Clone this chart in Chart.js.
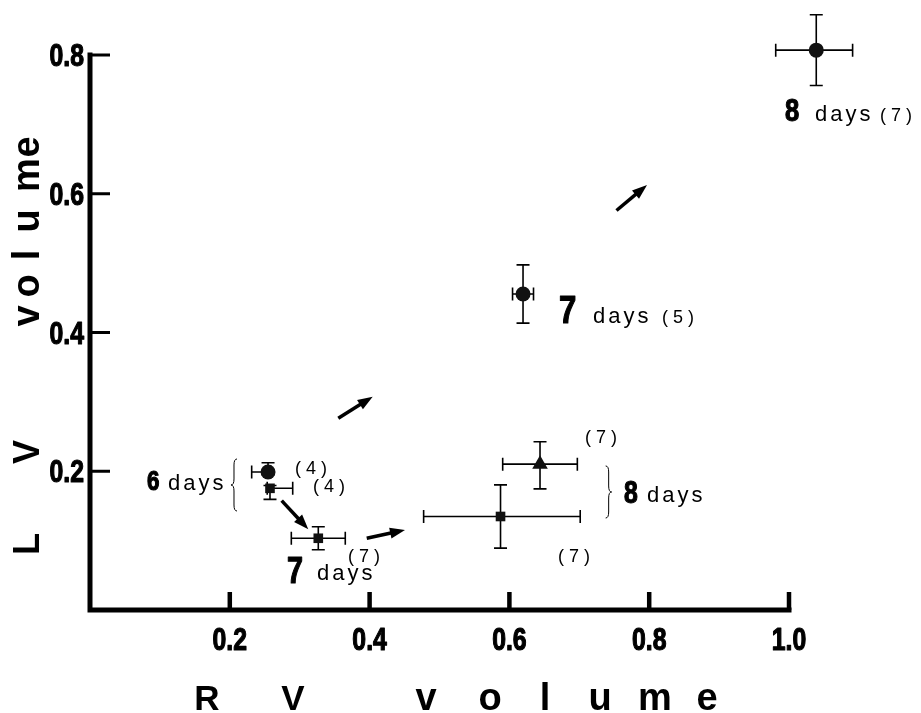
<!DOCTYPE html>
<html>
<head>
<meta charset="utf-8">
<script src="https://cdn.jsdelivr.net/npm/chart.js@4.4.0/dist/chart.umd.min.js"></script>
<style>
  html, body { margin: 0; padding: 0; background: #fff; }
  canvas { display: block; }
</style>
</head>
<body>
<canvas id="chart" width="921" height="713"></canvas>
<script>
// RV volume (x) against LV volume (y), mean with error bars
const rvVolume   = [1.039, 0.6195, 0.2547, 0.2575, 0.3266, 0.5873, 0.6438];
const lvVolume   = [0.807, 0.4555, 0.1989, 0.1754, 0.1034, 0.1348, 0.2102];
const rvErrMinus = [0.058, 0.015, 0.0234, 0.004, 0.0386, 0.110, 0.0534];
const rvErrPlus  = [0.052, 0.015, 0.004, 0.0325, 0.0386, 0.114, 0.0534];
const lvErrMinus = [0.051, 0.042, 0.004, 0.016, 0.0166, 0.0456, 0.0356];
const lvErrPlus  = [0.051, 0.042, 0.0134, 0.004, 0.0166, 0.0456, 0.0324];
const series     = ['circle', 'circle', 'circle', 'square', 'square', 'square', 'triangle'];

const xTicks = [0.2, 0.4, 0.6, 0.8, 1.0];
const xTickLabels = ['0.2', '0.4', '0.6', '0.8', '1.0'];
const yTicks = [0.2, 0.4, 0.6, 0.8];
const yTickLabels = ['0.2', '0.4', '0.6', '0.8'];

// arrows between stages, in data units
const arrowFrom = [[0.2742, 0.1576], [0.3959, 0.1034], [0.3552, 0.2763], [0.7532, 0.5759]];
const arrowTo   = [[0.3123, 0.1163], [0.4506, 0.1153], [0.4044, 0.3075], [0.7969, 0.6126]];

// annotations: text, x, y (data units, left / baseline), kind
const notes = [
  ['8', 0.9943, 0.7049, 'big32'], ['days', 1.0372, 0.7049, 'days'], ['(7)', 1.1302, 0.7049, 'n'],
  ['7', 0.6710, 0.4137, 'big39'], ['days', 0.7196, 0.4137, 'days'], ['(5)', 0.8183, 0.4137, 'n'],
  ['6', 0.0815, 0.1730, 'big28'], ['days', 0.1116, 0.1730, 'days'],
  ['(4)', 0.2933, 0.1960, 'n'], ['(4)', 0.3190, 0.1701, 'n'],
  ['(7)', 0.3691, 0.0692, 'n'], ['7', 0.2818, 0.0389, 'big36'], ['days', 0.3247, 0.0432, 'days'],
  ['(7)', 0.7082, 0.2407, 'n'], ['8', 0.7639, 0.1542, 'big31'], ['days', 0.7969, 0.1557, 'days'],
  ['(7)', 0.6695, 0.0692, 'n']
];
// curly braces: x, y top, y bottom, side of the tip
const braces = [[0.206, 0.2177, 0.1427, -1], [0.742, 0.2076, 0.1326, 1]];

const markerStyle = {
  circle: { pointStyle: 'circle', radius: 7.5 },
  square: { pointStyle: 'rect', radius: 6.8 },
  triangle: { pointStyle: 'triangle', radius: 9 }
};

const idx = series.map((s, i) => i);
const datasets = Object.keys(markerStyle).map(name => {
  const ids = idx.filter(i => series[i] === name);
  return {
    label: name,
    data: ids.map(i => ({ x: rvVolume[i], y: lvVolume[i] })),
    pointStyle: markerStyle[name].pointStyle,
    pointRadius: markerStyle[name].radius,
    pointBackgroundColor: '#111',
    pointBorderWidth: 0,
    showLine: false,
    clip: false
  };
});

const FONT = '"Liberation Sans", Arial, sans-serif';

// heavy, narrow digits like the figure's numerals
function condensed(ctx, text, x, y, size, align) {
  ctx.save();
  ctx.font = 'bold ' + size + 'px ' + FONT;
  ctx.translate(x, y);
  ctx.scale(0.8, 1);
  ctx.textAlign = align;
  ctx.textBaseline = 'alphabetic';
  ctx.lineWidth = 1.2;
  ctx.lineJoin = 'round';
  ctx.strokeText(text, 0, 0);
  ctx.fillText(text, 0, 0);
  ctx.restore();
}

function drawArrow(ctx, x1, y1, x2, y2) {
  const a = Math.atan2(y2 - y1, x2 - x1);
  const head = 15, half = 5.5;
  ctx.save();
  ctx.lineWidth = 3.5;
  ctx.lineCap = 'butt';
  ctx.beginPath();
  ctx.moveTo(x1, y1);
  ctx.lineTo(x2 - Math.cos(a) * head * 0.8, y2 - Math.sin(a) * head * 0.8);
  ctx.stroke();
  ctx.beginPath();
  ctx.moveTo(x2, y2);
  ctx.lineTo(x2 - Math.cos(a) * head - Math.sin(a) * half, y2 - Math.sin(a) * head + Math.cos(a) * half);
  ctx.lineTo(x2 - Math.cos(a) * head + Math.sin(a) * half, y2 - Math.sin(a) * head - Math.cos(a) * half);
  ctx.closePath();
  ctx.fill();
  ctx.restore();
}

function drawBrace(ctx, x, top, bottom, side) {
  const mid = (top + bottom) / 2, w = 3, r = 6;
  ctx.save();
  ctx.lineWidth = 1;
  ctx.beginPath();
  ctx.moveTo(x - side * w, top);
  ctx.quadraticCurveTo(x, top, x, top + r);
  ctx.lineTo(x, mid - r);
  ctx.quadraticCurveTo(x, mid, x + side * w, mid);
  ctx.quadraticCurveTo(x, mid, x, mid + r);
  ctx.lineTo(x, bottom - r);
  ctx.quadraticCurveTo(x, bottom, x - side * w, bottom);
  ctx.stroke();
  ctx.restore();
}

const figurePlugin = {
  id: 'figure',
  beforeDatasetsDraw(chart) {
    const ctx = chart.ctx;
    const xs = chart.scales.x, ys = chart.scales.y;
    const x0 = xs.getPixelForValue(0), y0 = ys.getPixelForValue(0);
    const xEnd = xs.getPixelForValue(xTicks[xTicks.length - 1]);
    const yEnd = ys.getPixelForValue(yTicks[yTicks.length - 1]);
    ctx.save();
    ctx.fillStyle = '#000';
    ctx.strokeStyle = '#000';

    // axis lines
    ctx.lineWidth = 5;
    ctx.lineCap = 'square';
    ctx.beginPath();
    ctx.moveTo(x0, yEnd);
    ctx.lineTo(x0, y0);
    ctx.lineTo(xEnd, y0);
    ctx.stroke();
    ctx.lineCap = 'butt';

    // x ticks (pointing up)
    ctx.lineWidth = 4.5;
    xTicks.forEach((v, k) => {
      const px = xs.getPixelForValue(v);
      ctx.beginPath();
      ctx.moveTo(px, y0);
      ctx.lineTo(px, y0 - 18);
      ctx.stroke();
      condensed(ctx, xTickLabels[k], px, y0 + 40, 31, 'center');
    });
    // y ticks (pointing right)
    ctx.lineWidth = 3;
    yTicks.forEach((v, k) => {
      const py = ys.getPixelForValue(v);
      ctx.beginPath();
      ctx.moveTo(x0, py);
      ctx.lineTo(x0 + 20, py);
      ctx.stroke();
      condensed(ctx, yTickLabels[k], x0 - 6, py + 11, 31, 'right');
    });

    // error bars
    ctx.lineWidth = 1.6;
    const cap = 6.5;
    rvVolume.forEach((xv, i) => {
      const yv = lvVolume[i];
      const px = xs.getPixelForValue(xv), py = ys.getPixelForValue(yv);
      const xl = xs.getPixelForValue(xv - rvErrMinus[i]), xr = xs.getPixelForValue(xv + rvErrPlus[i]);
      const yb = ys.getPixelForValue(yv - lvErrMinus[i]), yt = ys.getPixelForValue(yv + lvErrPlus[i]);
      ctx.beginPath();
      ctx.moveTo(xl, py); ctx.lineTo(xr, py);
      ctx.moveTo(xl, py - cap); ctx.lineTo(xl, py + cap);
      ctx.moveTo(xr, py - cap); ctx.lineTo(xr, py + cap);
      ctx.moveTo(px, yt); ctx.lineTo(px, yb);
      ctx.moveTo(px - cap, yt); ctx.lineTo(px + cap, yt);
      ctx.moveTo(px - cap, yb); ctx.lineTo(px + cap, yb);
      ctx.stroke();
    });

    // arrows
    arrowFrom.forEach((f, k) => {
      const t = arrowTo[k];
      drawArrow(ctx, xs.getPixelForValue(f[0]), ys.getPixelForValue(f[1]),
        xs.getPixelForValue(t[0]), ys.getPixelForValue(t[1]));
    });

    // braces
    braces.forEach(b => {
      drawBrace(ctx, xs.getPixelForValue(b[0]), ys.getPixelForValue(b[1]), ys.getPixelForValue(b[2]), b[3]);
    });

    // annotations
    notes.forEach(n => {
      const px = xs.getPixelForValue(n[1]), py = ys.getPixelForValue(n[2]);
      if (n[3].indexOf('big') === 0) {
        condensed(ctx, n[0], px, py, Number(n[3].slice(3)), 'left');
      } else {
        ctx.save();
        ctx.textAlign = 'left';
        ctx.textBaseline = 'alphabetic';
        if (n[3] === 'days') {
          ctx.font = '22px ' + FONT;
          ctx.letterSpacing = '3px';
        } else {
          ctx.font = '18px ' + FONT;
          ctx.letterSpacing = '5px';
        }
        ctx.fillText(n[0], px, py);
        ctx.restore();
      }
    });

    // axis titles, one letter at a time as spaced in the figure
    const drawLetters = (letters, size, rotate) => {
      letters.forEach(l => {
        ctx.save();
        ctx.font = 'bold ' + (l[0] === l[0].toUpperCase() ? size[0] : size[1]) + 'px ' + FONT;
        ctx.textAlign = 'center';
        ctx.textBaseline = 'alphabetic';
        ctx.translate(l[1], l[2]);
        if (rotate) ctx.rotate(-Math.PI / 2);
        ctx.fillText(l[0], 0, 0);
        ctx.restore();
      });
    };
    drawLetters([['R', 207, 710], ['V', 293, 710], ['v', 426, 710], ['o', 490, 710],
      ['l', 545, 710], ['u', 600, 710], ['m', 655, 710], ['e', 707, 710]], [35, 38], false);
    drawLetters([['L', 39, 544], ['V', 39, 452], ['v', 39, 316], ['o', 39, 286],
      ['l', 39, 255], ['u', 39, 221], ['m', 39, 175], ['e', 39, 147]], [36, 38], true);

    ctx.restore();
  }
};

new Chart(document.getElementById('chart'), {
  type: 'scatter',
  data: { datasets: datasets },
  options: {
    responsive: false,
    devicePixelRatio: 1,
    animation: false,
    layout: { autoPadding: false, padding: { left: 90, right: 0, top: 0, bottom: 103 } },
    plugins: { legend: { display: false }, tooltip: { enabled: false } },
    scales: {
      x: { type: 'linear', display: false, min: 0, max: 831 / 699 },
      y: { type: 'linear', display: false, min: 0, max: 610 / 693.75 }
    }
  },
  plugins: [figurePlugin]
});
</script>
</body>
</html>
